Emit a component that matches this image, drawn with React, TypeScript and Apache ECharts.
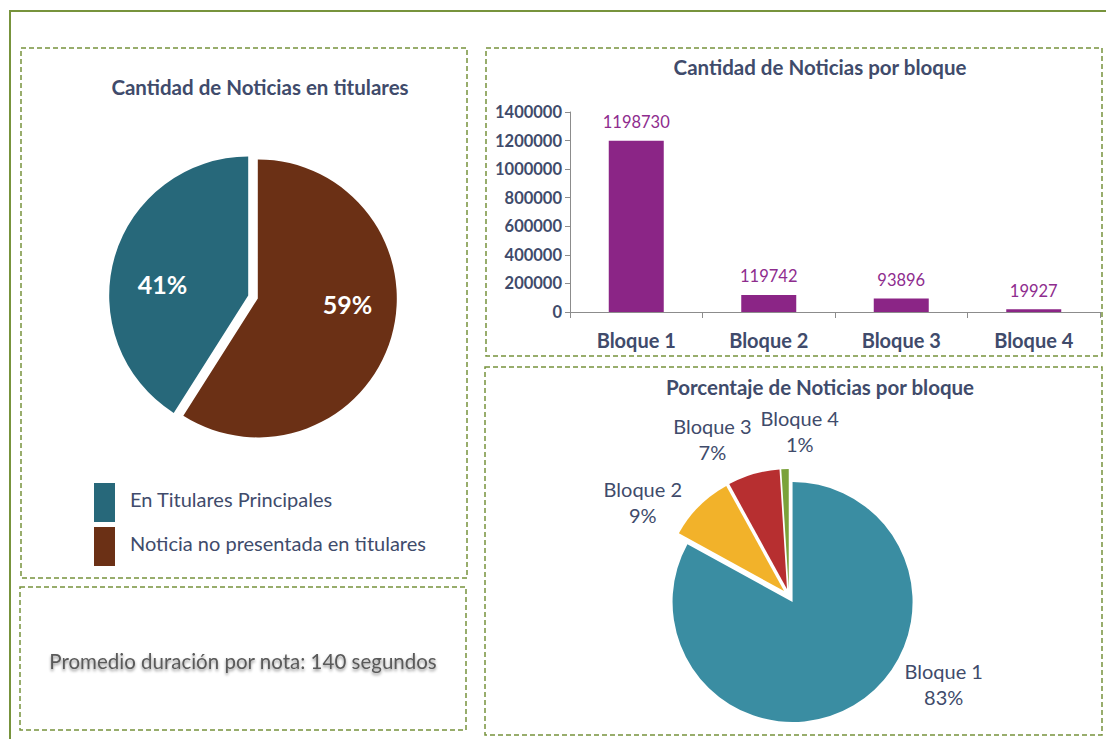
import React, { useEffect, useRef } from "react";
import * as echarts from "echarts";

const FONT = "Lato, 'Noto Sans', sans-serif";
const TXT = "#404b6b";
const FRAME = "#77933c";

const titularNames = ["En Titulares Principales", "Noticia no presentada en titulares"];
const titularPct = [41, 59];
const titularColors = ["#27687a", "#6b3015"];

const bloques = ["Bloque 1", "Bloque 2", "Bloque 3", "Bloque 4"];
const bloqueCounts = [1198730, 119742, 93896, 19927];
const bloquePct = [83, 9, 7, 1];
const bloqueColors = ["#3a8da2", "#f2b22a", "#b72f30", "#7ba23a"];

const yTicks = [0, 200000, 400000, 600000, 800000, 1000000, 1200000, 1400000];

const promedioText = "Promedio duración por nota: 140 segundos";

// label nudges (Excel-style label placement)
const pie1LabelShift = [
  [20, -15],
  [-16, 9],
];
const pie2LabelShift = [
  [38, -30],
  [26, -54],
  [68, -68],
  [62, -28],
];

export default function App() {
  const ref = useRef<HTMLDivElement>(null);
  useEffect(() => {
    if (!ref.current) return;
    const chart = echarts.init(ref.current, undefined, { renderer: "svg" });
    const dashed = (x: number, y: number, w: number, h: number) => ({
      type: "rect",
      shape: { x, y, width: w, height: h },
      style: { fill: "none", stroke: FRAME, lineWidth: 1.5, lineDash: [5, 3] },
      z: -1,
    });
    const titleStyle = { fontFamily: FONT, fontSize: 20.5, fontWeight: "bold", color: TXT };
    const option: any = {
      animation: false,
      backgroundColor: "#ffffff",
      textStyle: { fontFamily: FONT },
      title: [
        { text: "Cantidad de Noticias en titulares", left: 255, top: 71, textAlign: "center", textStyle: titleStyle },
        { text: "Cantidad de Noticias por bloque", left: 815, top: 51, textAlign: "center", textStyle: titleStyle },
        { text: "Porcentaje de Noticias por bloque", left: 815, top: 371, textAlign: "center", textStyle: titleStyle },
      ],
      legend: {
        data: titularNames,
        orient: "vertical",
        left: 94, top: 483,
        padding: 0,
        itemWidth: 21, itemHeight: 39, itemGap: 5,
        icon: "rect",
        selectedMode: false,
        formatter: "{t|{name}}",
        textStyle: {
          fontFamily: FONT, fontSize: 20, color: TXT, padding: [0, 0, 0, 10],
          rich: { t: { fontFamily: FONT, fontSize: 20, color: TXT, padding: [0, 0, 7, 0] } },
        },
      },
      grid: { left: 570, right: 6, top: 112, height: 200 },
      xAxis: {
        type: "category",
        data: bloques,
        axisLine: { lineStyle: { color: "#8c8c8c" } },
        axisTick: { show: true, length: 6, lineStyle: { color: "#8c8c8c" } },
        axisLabel: { fontFamily: FONT, fontSize: 20, fontWeight: "bold", color: TXT, margin: 18 },
      },
      yAxis: {
        type: "value",
        min: 0, max: yTicks[yTicks.length - 1], interval: yTicks[1] - yTicks[0],
        axisLine: { show: true, lineStyle: { color: "#8c8c8c" } },
        axisTick: { show: true, length: 5, lineStyle: { color: "#8c8c8c" } },
        splitLine: { show: false },
        axisLabel: {
          fontFamily: FONT, fontSize: 16.5, fontWeight: "bold", color: TXT, margin: 8,
          formatter: (v: number) => String(v),
        },
      },
      series: [
        {
          type: "pie",
          center: [253, 297],
          radius: 139,
          startAngle: 90,
          clockwise: true,
          selectedMode: "multiple",
          selectedOffset: 5,
          label: {
            position: "inside",
            formatter: "{c}%",
            color: "#ffffff",
            fontFamily: FONT,
            fontSize: 25,
            fontWeight: "bold",
          },
          labelLayout: (p: any) => ({ dx: pie1LabelShift[p.dataIndex][0], dy: pie1LabelShift[p.dataIndex][1] }),
          labelLine: { show: false },
          emphasis: { disabled: true },
          data: [
            { name: titularNames[1], value: titularPct[1], selected: true, itemStyle: { color: titularColors[1] } },
            { name: titularNames[0], value: titularPct[0], selected: true, itemStyle: { color: titularColors[0] } },
          ],
        },
        {
          type: "bar",
          data: bloqueCounts,
          barWidth: 55,
          itemStyle: { color: "#8b2586" },
          label: {
            show: true,
            position: "top",
            distance: 10,
            fontFamily: FONT,
            fontSize: 16.5,
            color: "#8e2c8e",
          },
          emphasis: { disabled: true },
        },
        {
          type: "pie",
          center: [789, 596],
          radius: 120,
          startAngle: 90,
          clockwise: true,
          selectedMode: "multiple",
          selectedOffset: 7,
          label: {
            position: "outside",
            formatter: "{n|{b}}\n{n|{c}%}",
            fontFamily: FONT,
            rich: {
              n: { fontFamily: FONT, fontSize: 20, color: TXT, width: 84, align: "center", lineHeight: 25.5 },
            },
          },
          labelLayout: (p: any) => ({ dx: pie2LabelShift[p.dataIndex][0], dy: pie2LabelShift[p.dataIndex][1] }),
          labelLine: { show: false, length: 10, length2: 0 },
          emphasis: { disabled: true },
          data: bloques.map((b, i) => ({
            name: b,
            value: bloquePct[i],
            selected: true,
            itemStyle: { color: bloqueColors[i] },
          })),
        },
      ],
      graphic: [
        {
          type: "rect",
          shape: { x: 10, y: 11, width: 1120, height: 760 },
          style: { fill: "none", stroke: FRAME, lineWidth: 2 },
          z: -1,
        },
        dashed(21, 48, 446, 530),
        dashed(20, 587, 446, 143),
        dashed(486, 48, 616, 308),
        dashed(485, 367, 617, 368),
        {
          type: "text",
          x: 243, y: 661,
          style: {
            text: promedioText,
            fontFamily: FONT,
            fontSize: 20.5,
            fill: "#5a5a5a",
            textAlign: "center",
            textVerticalAlign: "middle",
            textShadowColor: "rgba(0,0,0,0.45)",
            textShadowBlur: 3,
            textShadowOffsetY: 2,
          },
        },
      ],
    };
    chart.setOption(option);
    return () => chart.dispose();
  }, []);
  return (
    <div
      ref={ref}
      style={{ position: "fixed", left: 0, top: 0, width: 1106, height: 739, background: "#fff" }}
    />
  );
}
